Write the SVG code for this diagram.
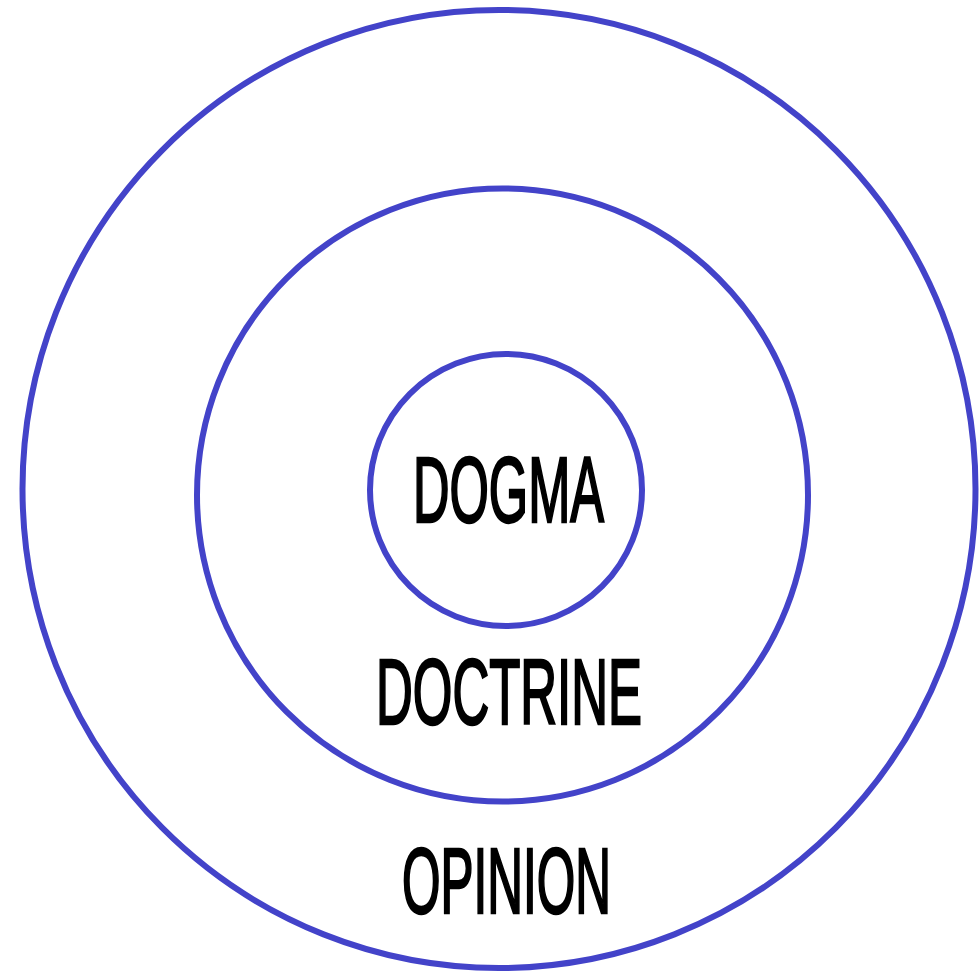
<svg xmlns="http://www.w3.org/2000/svg" width="979" height="974" viewBox="0 0 979 974">
<style>
.ring{fill:none;stroke:#4343c9;stroke-width:6}
.lbl{font-family:"Liberation Sans",Arial,sans-serif;font-size:92px;font-weight:normal;fill:#000;stroke:#000;stroke-width:2.5}
</style>
<rect width="979" height="974" fill="#fff"/>
<g id="opinion">
<ellipse class="ring" cx="499" cy="489" rx="476.5" ry="479"/>
<text class="lbl" x="402" y="913" textLength="209" lengthAdjust="spacingAndGlyphs">OPINION</text>
</g>
<g id="doctrine">
<ellipse class="ring" cx="502.5" cy="495" rx="305.5" ry="306.5"/>
<text class="lbl" x="376" y="724" textLength="266" lengthAdjust="spacingAndGlyphs">DOCTRINE</text>
</g>
<g id="dogma">
<circle class="ring" cx="506" cy="490" r="136"/>
<text class="lbl" x="413" y="522" textLength="191" lengthAdjust="spacingAndGlyphs">DOGMA</text>
</g>
<g id="connectors"/>
</svg>
